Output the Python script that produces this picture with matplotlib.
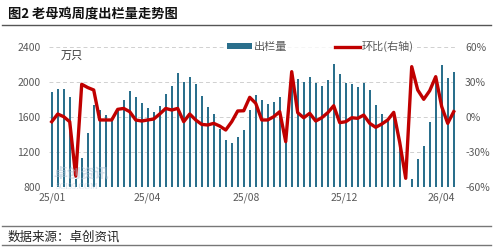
import matplotlib
matplotlib.use("Agg")
import matplotlib.pyplot as plt
import numpy as np
from matplotlib.patches import Patch
from matplotlib.lines import Line2D
from matplotlib.ticker import FuncFormatter

plt.rcParams["font.family"] = ["Noto Sans CJK SC", "DejaVu Sans"]

# weekly slaughter volume of spent hens (10k birds), 2025-01 .. 2026-04
volume = [1886, 1913, 1913, 1829, 890, 1124, 1410, 1734, 1672, 1625,
          1582, 1677, 1791, 1894, 1829, 1760, 1703, 1657, 1722, 1860,
          1951, 2103, 1993, 2054, 1970, 1840, 1714, 1631, 1456, 1334,
          1303, 1371, 1448, 1677, 1848, 1791, 1750, 1765, 1825, 1450,
          1990, 2031, 2000, 2050, 1989, 1951, 2020, 2199, 2088, 1989,
          1970, 1943, 1989, 1905, 1734, 1631, 1566, 1600, 1280, 630,
          890, 1113, 1265, 1540, 2050, 2191, 2046, 2111]

# week-on-week change, percent (right axis)
wow = [-4.3, 2.3, 0.0, -4.3, -51.0, 27.8, 25.0, 22.9, -2.8, -2.8,
       -2.8, 6.3, 7.1, 4.3, -2.8, -3.7, -2.8, -2.0, 2.3, 7.1,
       5.7, 7.1, -4.3, 2.3, -2.8, -6.6, -7.1, -5.7, -8.0, -11.4,
       -4.3, 4.9, 5.1, 16.6, 11.5, -2.8, -2.8, 0.0, 4.3, -21.4,
       38.6, 3.4, -0.9, 2.9, -3.7, -0.9, 3.4, 9.4, -5.1, -4.3,
       -0.9, -1.4, 1.4, -5.7, -9.1, -6.3, -2.8, 3.7, -22.0, -52.8,
       42.9, 22.9, 14.9, 22.3, 34.3, 8.6, -5.7, 4.3]

tick_labels = ["25/01", "25/04", "25/08", "25/12", "26/04"]
tick_pos = [0, 16, 32.5, 48.7, 65]

bar_color = "#2a6f8c"
line_color = "#c00000"
text_gray = "#595959"

fig = plt.figure(figsize=(4.93, 2.5), dpi=100)
ax = fig.add_axes([0.0988, 0.2532, 0.8276, 0.56])
ax2 = ax.twinx()

x = np.arange(len(volume))
ax.bar(x, volume, width=0.34, color=bar_color, zorder=2)
ax.set_ylim(800, 2400)
ax.set_yticks([800, 1200, 1600, 2000, 2400])
ax.set_xlim(-0.5, len(volume) - 0.5)
ax.set_xticks(tick_pos)
ax.set_xticklabels(tick_labels)
ax.grid(axis="y", color="#d0d0d0", linestyle=(0, (4, 3)), linewidth=0.7, zorder=0)
ax.set_axisbelow(True)

ax2.plot(x, np.array(wow) / 100, color=line_color, linewidth=2.4, zorder=3)
ax2.set_ylim(-0.6, 0.6)
ax2.set_yticks([-0.6, -0.3, 0, 0.3, 0.6])
ax2.yaxis.set_major_formatter(FuncFormatter(lambda v, _: "{:.0f}%".format(v * 100)))

for a in (ax, ax2):
    for s in a.spines.values():
        s.set_visible(False)
    a.tick_params(length=0, labelsize=7.5, colors=text_gray)
ax.tick_params(axis="x", pad=4)
ax.tick_params(axis="y", pad=6)
ax2.tick_params(axis="y", pad=6)

ax.text(0.03, 0.93, "万只", transform=ax.transAxes, fontsize=8, color="#333333",
        va="center", ha="left")

# faint watermark
fig.text(0.108, 0.305, "卓创资讯", fontsize=10, color="#a9bfd3", alpha=0.5,
         fontweight="bold", ha="left", va="center")
fig.text(0.112, 0.252, "SCI99.COM", fontsize=6, color="#a9bfd3", alpha=0.5,
         ha="left", va="center", family="Liberation Serif")

handles = [Patch(facecolor=bar_color, label="出栏量"),
           Line2D([0], [0], color=line_color, linewidth=2.4, label="环比(右轴)")]
leg = ax.legend(handles=handles, loc="center", bbox_to_anchor=(0.665, 1.0), ncol=2,
                frameon=True, fontsize=8, handlelength=2.3, handleheight=0.45,
                columnspacing=4.3, handletextpad=0.1, borderpad=0.15)
leg.get_frame().set_facecolor("white")
leg.get_frame().set_edgecolor("none")
for t in leg.get_texts():
    t.set_color(text_gray)

# title and source with rules
fig.text(0.016, 0.945, "图2 老母鸡周度出栏量走势图", fontsize=9.5, fontweight="bold",
         color="#111111", ha="left", va="center")
fig.add_artist(Line2D([0.005, 0.995], [0.902, 0.902], color="#555555", linewidth=1.0))
fig.add_artist(Line2D([0.005, 0.995], [0.096, 0.096], color="#777777", linewidth=1.0))
fig.text(0.016, 0.052, "数据来源：卓创资讯", fontsize=9, color="#222222",
         ha="left", va="center")
fig.add_artist(Line2D([0.005, 0.995], [0.021, 0.021], color="#777777", linewidth=1.0))

fig.savefig("out.png", dpi=100)
